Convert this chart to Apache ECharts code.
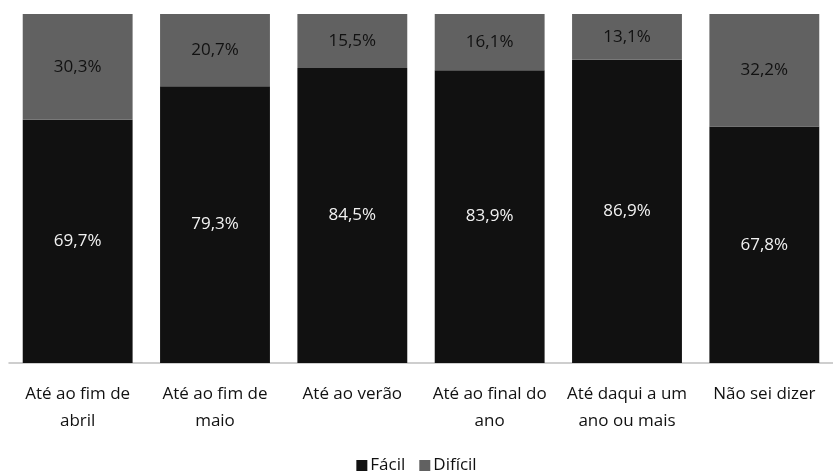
<!DOCTYPE html>
<html>
<head>
<meta charset="utf-8">
<script src="https://cdn.jsdelivr.net/npm/echarts@6/dist/echarts.min.js"></script>
<style>
  html, body { margin: 0; padding: 0; background: #fff; }
  #main { width: 833px; height: 476px; }
</style>
</head>
<body>
<div id="main"></div>
<script>
var categories = [
  'Até ao fim de\nabril',
  'Até ao fim de\nmaio',
  'Até ao verão',
  'Até ao final do\nano',
  'Até daqui a um\nano ou mais',
  'Não sei dizer'
]
var facil = [69.7, 79.3, 84.5, 83.9, 86.9, 67.8]
var dificil = [30.3, 20.7, 15.5, 16.1, 13.1, 32.2]

var fontFam = '"Open Sans", "Noto Sans", sans-serif'

function pct(p) {
  return p.value.toFixed(1).replace('.', ',') + '%'
}

var myChart = echarts.init(document.getElementById('main'))
var option = {
  animation: false,
  textStyle: { fontFamily: fontFam },
  legend: {
    data: ['Fácil', 'Difícil'],
    bottom: -3,
    left: 'center',
    itemWidth: 11,
    itemHeight: 11,
    itemGap: 14,
    icon: 'rect',
    textStyle: { fontSize: 17, color: '#111', fontFamily: fontFam, padding: [0, 0, 0, -2] }
  },
  grid: { left: 9, right: -8, top: 14, bottom: 113 },
  xAxis: {
    type: 'category',
    data: categories,
    axisTick: { show: false },
    axisLine: { lineStyle: { color: '#bfbfbf', width: 1.5 } },
    axisLabel: {
      interval: 0,
      margin: 18,
      fontSize: 17,
      lineHeight: 27,
      color: '#111',
      fontFamily: fontFam
    }
  },
  yAxis: {
    type: 'value',
    min: 0,
    max: 100,
    show: false
  },
  series: [
    {
      name: 'Fácil',
      type: 'bar',
      stack: 'total',
      barCategoryGap: '20%',
      itemStyle: { color: '#111111' },
      label: {
        show: true,
        position: 'inside',
        formatter: pct,
        color: '#f2f2f2',
        fontSize: 17,
        fontFamily: fontFam
      },
      data: facil
    },
    {
      name: 'Difícil',
      type: 'bar',
      stack: 'total',
      itemStyle: { color: '#616161' },
      label: {
        show: true,
        position: 'inside',
        formatter: pct,
        color: '#111',
        fontSize: 17,
        fontFamily: fontFam
      },
      data: dificil
    }
  ]
}
myChart.setOption(option)
</script>
</body>
</html>
